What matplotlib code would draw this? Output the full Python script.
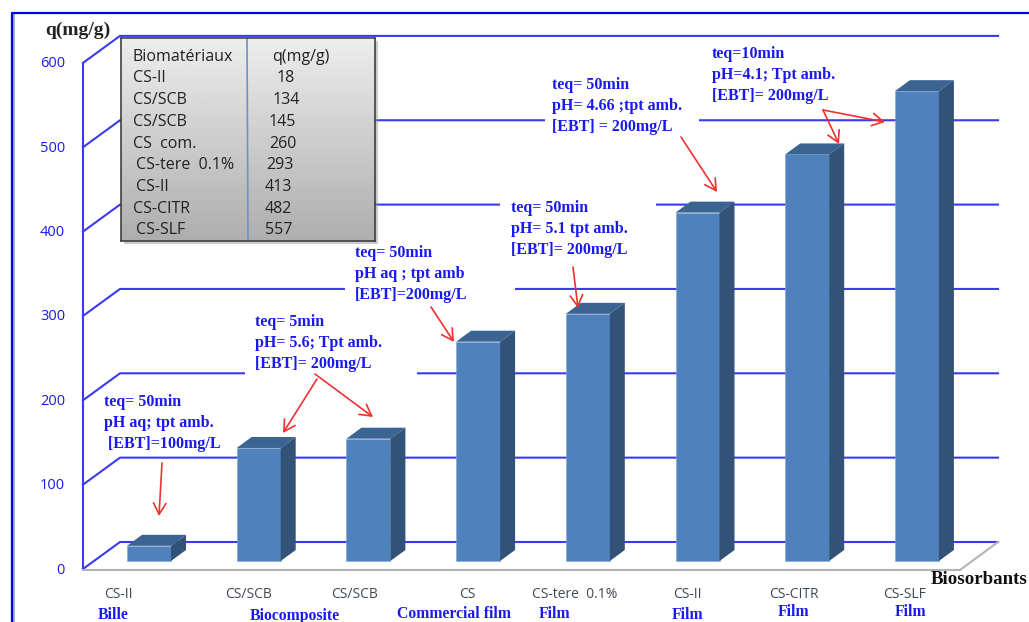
#! /usr/bin/env python3

import matplotlib
matplotlib.use("Agg")
import matplotlib.pyplot as plt
import numpy as np
from matplotlib.patches import Polygon, Rectangle

categories = ['CS-II', 'CS/SCB', 'CS/SCB', 'CS', 'CS-tere  0.1%', 'CS-II', 'CS-CITR', 'CS-SLF']
forms = ['Bille', '', 'Biocomposite', 'Commercial film', 'Film', 'Film', 'Film', 'Film']
values = [18, 134, 145, 260, 293, 413, 482, 557]
y_ticks = [0, 100, 200, 300, 400, 500, 600]

table_names = ['CS-II', 'CS/SCB', 'CS/SCB', 'CS  com.', 'CS-tere  0.1%', 'CS-II', 'CS-CITR', 'CS-SLF']
table_values = ['18', '134', '145', '260', '293', '413', '482', '557']

notes = [
    'teq= 50min\npH aq; tpt amb.\n [EBT]=100mg/L',
    'teq= 5min\npH= 5.6; Tpt amb.\n[EBT]= 200mg/L',
    'teq= 50min\npH aq ; tpt amb\n[EBT]=200mg/L',
    'teq= 50min\npH= 5.1 tpt amb.\n[EBT]= 200mg/L',
    'teq= 50min\npH= 4.66 ;tpt amb.\n[EBT] = 200mg/L',
    'teq=10min\npH=4.1; Tpt amb.\n[EBT]= 200mg/L',
]

W, H = 1029, 622
BLUE = '#1a1aee'
BAR = '#4f81bd'
BAR_TOP = '#3b6492'
BAR_SIDE = '#325278'
UNIT = 0.8435  # px per q unit
DX, DY = 37, 27  # wall offset
BX, BY = 15, 11  # bar depth


def px(x, y):
    return x / W, 1 - y / H


fig = plt.figure(figsize=(W / 100, H / 100), dpi=100)
ax = fig.add_axes([0, 0, 1, 1])
ax.set_xlim(-149 / 109.7, (W - 149) / 109.7)
ax.set_ylim((561 - H) / UNIT, 561 / UNIT)
ax.axis('off')

T = fig.transFigure


def fline(xs, ys, **kw):
    p = [px(a, b) for a, b in zip(xs, ys)]
    ax.add_line(plt.Line2D([a for a, b in p], [b for a, b in p], transform=T, **kw))


def ftext(x, y, s, **kw):
    a, b = px(x, y)
    ax.text(a, b, s, transform=T, **kw)


# outer frame
fline([13.5, 13.5], [14, H], color='#b0b0b0', lw=1.5, zorder=1)
fline([11.5, 11.5, W], [H, 12.5, 12.5], color='#0000e6', lw=1.6, zorder=2)

# walls
for t in y_ticks:
    fy = 569 - UNIT * t
    fline([83, 120, 998], [fy, fy - DY, fy - DY], color='#3a3af0', lw=1.5, zorder=2)
    ftext(65, fy + 1, str(t), color=BLUE, fontsize=10.5, family='Open Sans', weight='medium', ha='right', va='center')
fline([83, 83], [569, 569 - UNIT * 600], color='#3a3af0', lw=1.5, zorder=2)

# floor
fline([83, 960, 998], [570, 570, 542], color='#b4b4b4', lw=1.5, zorder=2)

# white patches the notes sit on
for x0, y0, x1, y1 in [(245, 312, 417, 376), (345, 245, 515, 306), (500, 198, 656, 262), (545, 75, 699, 140)]:
    a, b = px(x0, y1)
    c, d = px(x1, y0)
    ax.add_patch(Rectangle((a, b), c - a, d - b, transform=T, fc='white', ec='none', zorder=3))

# bars
w = 44 / 109.7
dx = BX / 109.7
dy = BY / UNIT
for i, v in enumerate(values):
    l, r = i - w / 2, i + w / 2
    ax.bar(i, v, width=w, color=BAR, edgecolor='#7ea6d3', linewidth=0.4, zorder=4)
    ax.add_patch(Polygon([(l, v), (r, v), (r + dx, v + dy), (l + dx, v + dy)], fc=BAR_TOP, ec='none', zorder=4))
    ax.add_patch(Polygon([(r, 0), (r + dx, dy), (r + dx, v + dy), (r, v)], fc=BAR_SIDE, ec='none', zorder=4))

# category and type labels
cat_x = [118, 248, 355, 467, 575, 687, 794, 905]
for x, c in zip(cat_x, categories):
    ftext(x, 595, c, color='#404a55', fontsize=10, family='Open Sans', ha='center', va='center', zorder=5)
form_x = [113, 295, 454, 555, 688, 794, 911]
form_y = [615, 616, 614, 614, 615, 612, 612]
form_labels = [f for f in forms if f]
for x, y, s in zip(form_x, form_y, form_labels):
    ftext(x, y, s, color=BLUE, fontsize=11.3, family='Liberation Serif', weight='bold', ha='center', va='center')

ftext(45, 30, 'q(mg/g)', color='#222222', fontsize=14, family='Liberation Serif', weight='bold', va='center')
ftext(931, 579, 'Biosorbants', color='#111111', fontsize=13.6, family='Liberation Serif', weight='bold', va='center')

# notes
note_pos = [(104, 394), (255, 314), (355, 245), (511, 200), (552, 77), (712, 46)]
for (x, y), s in zip(note_pos, notes):
    ftext(x, y, s, color=BLUE, fontsize=11.5, family='Liberation Serif', weight='bold', va='top', linespacing=1.42, zorder=6)

# arrows
arrows = [
    ((162, 463), (159, 516)),
    ((317, 379), (283, 433)),
    ((315, 374), (373, 417)),
    ((431, 307), (454, 342)),
    ((573, 267), (578, 308)),
    ((681, 137), (717, 192)),
    ((823, 110), (839, 144)),
    ((823, 110), (885, 122)),
]
for a, b in arrows:
    ax.annotate('', xy=px(*b), xytext=px(*a), xycoords=T, textcoords=T, zorder=7,
                arrowprops=dict(arrowstyle='->,head_length=0.8,head_width=0.45', color='#f03030', lw=1.2,
                                shrinkA=0, shrinkB=0))

# table box with gradient
ax.add_patch(Rectangle(px(124, 244), 254 / W, 203 / H, transform=T, fc='#999999', ec='none', alpha=0.5, zorder=7))
grad = np.linspace(0.93, 0.68, 100).reshape(-1, 1)
ax_t = fig.add_axes([121 / W, 1 - 241 / H, 254 / W, 203 / H], zorder=8)
ax_t.imshow(grad, cmap='gray', vmin=0, vmax=1, aspect='auto', extent=[121, 375, 241, 38])
ax_t.set_xlim(121, 375)
ax_t.set_ylim(241, 38)
ax_t.set_xticks([])
ax_t.set_yticks([])
for s in ax_t.spines.values():
    s.set_color('#333333')
    s.set_linewidth(1.1)
ax_t.plot([247, 248], [38, 241], color='#6b93c4', lw=1.2)
name_x = [133, 133, 133, 133, 136, 136, 133, 136]
val_x = [277, 273, 269, 269, 266, 265, 265, 265]
ax_t.text(133, 57, 'Biomatériaux', color='#222222', fontsize=11.5, family='Open Sans', weight='medium', va='center')
ax_t.text(272, 57, 'q(mg/g)', color='#222222', fontsize=11.5, family='Open Sans', weight='medium', va='center')
for i in range(8):
    y = 78.5 + i * 21.7
    ax_t.text(name_x[i], y, table_names[i], color='#222222', fontsize=11.5, family='Open Sans', weight='medium', va='center')
    ax_t.text(val_x[i], y, table_values[i], color='#222222', fontsize=11.5, family='Open Sans', weight='medium', va='center')

fig.savefig('out.png', dpi=100)
